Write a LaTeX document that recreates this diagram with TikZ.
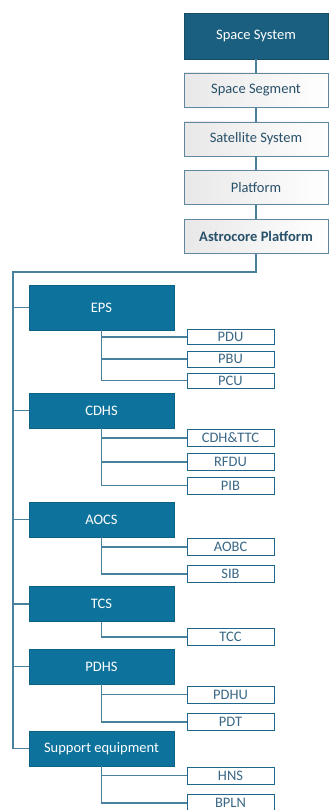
\documentclass[tikz,border=0pt]{standalone}
\usepackage{fontspec}
\setmainfont{Carlito}
\usepackage{tikz}
\usetikzlibrary{positioning,calc}

\definecolor{topdark}{RGB}{26,95,128}
\definecolor{groupblue}{RGB}{14,115,156}
\definecolor{linkblue}{RGB}{72,128,158}
\definecolor{smallborder}{RGB}{32,102,140}
\definecolor{smalltext}{RGB}{58,104,134}
\definecolor{topborder}{RGB}{95,135,160}
\definecolor{toptext}{RGB}{40,80,105}

\begin{document}
\begin{tikzpicture}[
    x=1pt, y=-1pt,
    font=\fontsize{14.5}{16}\selectfont,
    topbox/.style={draw=topborder, line width=0.8pt, left color=gray!18, right color=white,
                   text=toptext, minimum width=144pt, minimum height=34pt, inner sep=0pt},
    headbox/.style={draw=topdark!80!black, fill=topdark, text=white,
                    minimum width=144pt, minimum height=46pt, inner sep=0pt},
    groupbox/.style={draw=groupblue!85!black, fill=groupblue, text=white,
                     minimum width=145pt, minimum height=35pt, inner sep=0pt},
    unitbox/.style={draw=smallborder, line width=0.9pt, fill=white, text=smalltext,
                    minimum width=87pt, minimum height=17pt, inner sep=0pt},
    link/.style={draw=linkblue, line width=1.3pt}
  ]
    \useasboundingbox (0,0) rectangle (329,810);

    % top chain
    \node[headbox] (sys)   at (256,36)    {Space System};
    \node[topbox]  (seg)   at (256,90)    {Space Segment};
    \node[topbox]  (sat)   at (256,139)   {Satellite System};
    \node[topbox]  (plat)  at (256,187.5) {Platform};
    \node[topbox]  (astro) at (256,236.5) {\bfseries Astrocore Platform};
    \draw[link] (sys)  -- (seg);
    \draw[link] (seg)  -- (sat);
    \draw[link] (sat)  -- (plat);
    \draw[link] (plat) -- (astro);

    % subsystems
    \node[groupbox, minimum height=45pt] (eps) at (101.5,307.5) {EPS};
    \node[groupbox] (cdhs) at (101.5,410.5) {CDHS};
    \node[groupbox] (aocs) at (101.5,519.5) {AOCS};
    \node[groupbox] (tcs)  at (101.5,604)   {TCS};
    \node[groupbox] (pdhs) at (101.5,666.5) {PDHS};
    \node[groupbox] (sup)  at (101.5,748.5) {Support equipment};

    % units
    \node[unitbox, minimum height=15pt] (pdu) at (230.5,337)   {PDU};
    \node[unitbox, minimum height=16pt] (pbu) at (230.5,359)   {PBU};
    \node[unitbox, minimum height=15pt] (pcu) at (230.5,380.5) {PCU};
    \node[unitbox] (cdh)  at (230.5,438)   {CDH\&TTC};
    \node[unitbox] (rfdu) at (230.5,462)   {RFDU};
    \node[unitbox] (pib)  at (230.5,485.5) {PIB};
    \node[unitbox] (aobc) at (230.5,547)   {AOBC};
    \node[unitbox] (sib)  at (230.5,574)   {SIB};
    \node[unitbox] (tcc)  at (230.5,637)   {TCC};
    \node[unitbox] (pdhu) at (230.5,694.5) {PDHU};
    \node[unitbox] (pdt)  at (230.5,722)   {PDT};
    \node[unitbox] (hns)  at (230.5,775.5) {HNS};
    \node[unitbox] (bpln) at (230.5,803)   {BPLN};

    % main trunk
    \coordinate (trunk) at (13,272);
    \draw[link] (astro.south) |- (trunk) -- (trunk |- sup.west) -- (sup.west);
    \draw[link] (trunk |- eps.west)  -- (eps.west);
    \draw[link] (trunk |- cdhs.west) -- (cdhs.west);
    \draw[link] (trunk |- aocs.west) -- (aocs.west);
    \draw[link] (trunk |- tcs.west)  -- (tcs.west);
    \draw[link] (trunk |- pdhs.west) -- (pdhs.west);

    % unit branches
    \draw[link] (eps.south) |- (pcu.west);
    \draw[link] (eps.south |- pdu.west) -- (pdu.west);
    \draw[link] (eps.south |- pbu.west) -- (pbu.west);
    \draw[link] (cdhs.south) |- (pib.west);
    \draw[link] (cdhs.south |- cdh.west)  -- (cdh.west);
    \draw[link] (cdhs.south |- rfdu.west) -- (rfdu.west);
    \draw[link] (aocs.south) |- (sib.west);
    \draw[link] (aocs.south |- aobc.west) -- (aobc.west);
    \draw[link] (tcs.south) |- (tcc.west);
    \draw[link] (pdhs.south) |- (pdt.west);
    \draw[link] (pdhs.south |- pdhu.west) -- (pdhu.west);
    \draw[link] (sup.south) |- (bpln.west);
    \draw[link] (sup.south |- hns.west) -- (hns.west);
\end{tikzpicture}
\end{document}
